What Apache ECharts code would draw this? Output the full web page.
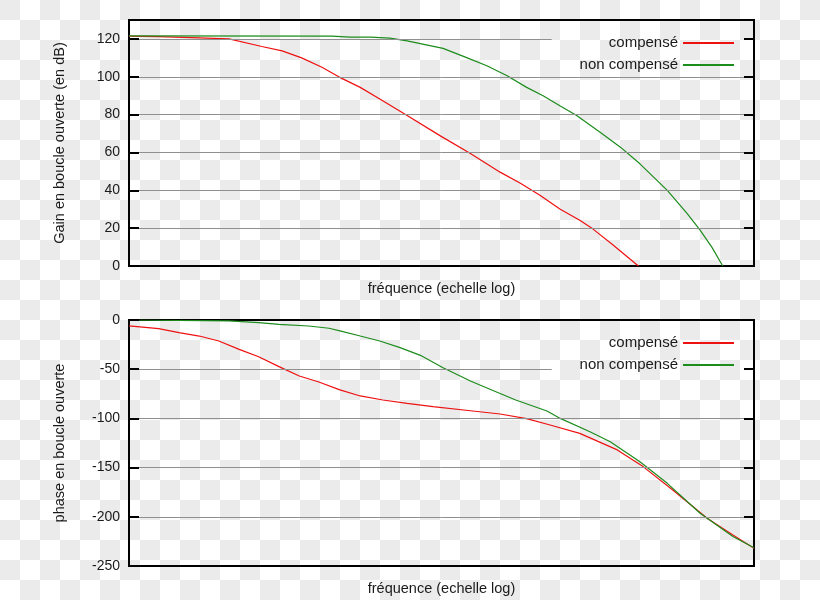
<!DOCTYPE html>
<html><head><meta charset="utf-8">
<script src="https://cdn.jsdelivr.net/npm/echarts@6/dist/echarts.min.js"></script>
<style>
html,body{margin:0;padding:0;}
body{width:820px;height:600px;background:repeating-conic-gradient(#fff 0 25%, #ebebeb 0 50%) 0 0/40px 40px;}
#c{width:820px;height:600px;}
</style></head><body><div id="c"></div>
<script>
// x = log10(frequency), 8 decades across the plot
const seriesNames = ['compensé', 'non compensé'];
const gainCompense = [[0,121.5],[0.38,121.2],[0.9,120.6],[1.28,120],[1.7,116],[1.96,113.7],[2.21,110],[2.47,105],[2.73,99],[2.96,94.4],[3.21,88.3],[3.56,79.5],[3.98,68.9],[4.37,59.5],[4.75,49.6],[5.01,43.7],[5.26,37.4],[5.52,30],[5.77,24.2],[5.94,19.5],[6.2,11],[6.52,0]];
const gainNonCompense = [[0,121.6],[2.6,121.5],[2.83,121],[3.09,121],[3.34,120.4],[3.56,119],[4.02,115],[4.33,110],[4.58,105.8],[4.84,100.5],[5.09,94.4],[5.3,90],[5.52,84.5],[5.73,79.5],[6.03,70.7],[6.29,62.8],[6.54,54],[6.89,40],[7.14,27.9],[7.31,19],[7.46,10],[7.6,0]];
const phaseCompense = [[0,-6],[0.38,-8.8],[0.64,-12.9],[0.9,-16.3],[1.15,-21.3],[1.41,-29.8],[1.66,-37.3],[1.92,-47.4],[2.18,-56.9],[2.43,-63],[2.7,-71],[2.96,-77.2],[3.25,-81.3],[3.56,-84.7],[3.89,-88.1],[4.4,-92.5],[4.75,-95.5],[5.09,-100.3],[5.39,-106.7],[5.77,-115.2],[6.25,-132],[6.58,-149],[6.96,-172.8],[7.4,-201.5],[7.73,-218.5],[8,-232]];
const phaseNonCompense = [[0,0],[1.28,-0.8],[1.66,-2.7],[1.92,-4.4],[2.3,-6.1],[2.56,-8.4],[2.7,-11],[2.96,-16.3],[3.21,-21.3],[3.47,-28.1],[3.73,-35.9],[4.02,-48.5],[4.37,-62],[4.62,-70.4],[4.95,-81.3],[5.35,-92.5],[5.52,-100],[5.9,-113.5],[6.16,-123.7],[6.54,-144],[6.89,-166],[7.31,-196.4],[7.73,-220],[8,-231.4]];
const gainTicks = [0,20,40,60,80,100,120];
const phaseTicks = [-250,-200,-150,-100,-50,0];
const xName = 'fréquence (echelle log)';
const gainName = 'Gain en boucle ouverte (en dB)';
const phaseName = 'phase en boucle ouverte';

const FONT = 'Liberation Sans, Arial, sans-serif';
const RED = '#ee1111', GREEN = '#1c8c1c', GRIDC = '#8f8f8f';
const X_MIN = 0, X_MAX = 8, LEGEND_X = 5.41;

function gridLines(ticks, clipFrom, skip) {
  return ticks.filter(v => !skip.includes(v)).map(v => [
    {coord: [X_MIN, v]},
    {coord: [v >= clipFrom ? LEGEND_X : X_MAX, v]}
  ]);
}

function xAxis(gi) {
  return {gridIndex: gi, type: 'value', min: X_MIN, max: X_MAX,
    axisLine: {show: false}, axisTick: {show: false}, axisLabel: {show: false}, splitLine: {show: false},
    name: xName, nameLocation: 'middle', nameGap: 15,
    nameTextStyle: {fontFamily: FONT, fontSize: 14.5, color: '#1a1a1a'}};
}
function yAxis(gi, min, max, ticks, name, right) {
  const o = {gridIndex: gi, type: 'value', min: min, max: max, position: right ? 'right' : 'left', z: 5,
    axisLine: {show: false},
    axisTick: {show: true, inside: true, length: 10, customValues: ticks, lineStyle: {color: '#000', width: 2}},
    axisLabel: right ? {show: false} : {customValues: ticks, margin: 9, fontFamily: FONT, fontSize: 14, color: '#1a1a1a'},
    splitLine: {show: false}};
  if (!right) Object.assign(o, {name: name, nameLocation: 'middle', nameGap: 62,
    nameTextStyle: {fontFamily: FONT, fontSize: 14.5, color: '#1a1a1a'}});
  return o;
}
function line(name, data, color, xi, yi) {
  return {name: name, type: 'line', data: data, xAxisIndex: xi, yAxisIndex: yi,
    symbol: 'none', showSymbol: false, color: color, lineStyle: {color: color, width: 1.2}, z: 3};
}
function gridSeries(xi, yi, lines) {
  return {type: 'line', data: [], xAxisIndex: xi, yAxisIndex: yi, z: 1, silent: true,
    markLine: {silent: true, symbol: 'none', animation: false, label: {show: false},
      lineStyle: {color: GRIDC, width: 1, type: 'solid'}, data: lines}};
}
function legend(top) {
  return {data: seriesNames, orient: 'vertical', right: 81, top: top, align: 'right',
    icon: 'rect', itemWidth: 51, itemHeight: 2, itemGap: 7,
    textStyle: {fontFamily: FONT, fontSize: 15, color: '#1a1a1a'}};
}

const chart = echarts.init(document.getElementById('c'), null, {renderer: 'canvas'});
chart.setOption({
  animation: false,
  backgroundColor: 'transparent',
  grid: [
    {left: 129, top: 20, width: 625, height: 246, show: true, borderColor: '#000', borderWidth: 2, backgroundColor: 'transparent'},
    {left: 129, top: 320, width: 625, height: 246, show: true, borderColor: '#000', borderWidth: 2, backgroundColor: 'transparent'}
  ],
  legend: [legend(30.5), legend(330.5)],
  xAxis: [xAxis(0), xAxis(1)],
  yAxis: [
    yAxis(0, 0, 130, gainTicks, gainName, false),
    yAxis(0, 0, 130, gainTicks, gainName, true),
    yAxis(1, -250, 0, phaseTicks, phaseName, false),
    yAxis(1, -250, 0, phaseTicks, phaseName, true)
  ],
  series: [
    gridSeries(0, 0, gridLines(gainTicks, 110, [0])),
    gridSeries(1, 2, gridLines(phaseTicks, -60, [0, -250])),
    line(seriesNames[0], gainCompense, RED, 0, 0),
    line(seriesNames[1], gainNonCompense, GREEN, 0, 0),
    line(seriesNames[0], phaseCompense, RED, 1, 2),
    line(seriesNames[1], phaseNonCompense, GREEN, 1, 2)
  ]
});
</script></body></html>
